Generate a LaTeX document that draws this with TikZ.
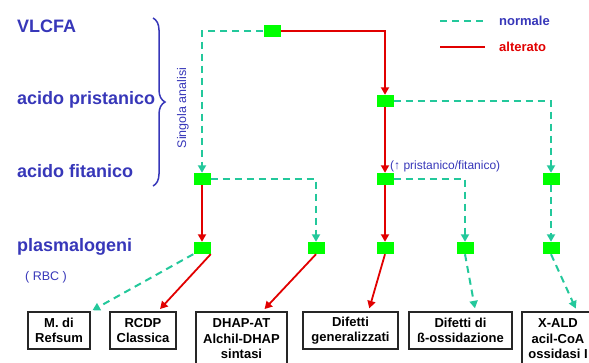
\documentclass[tikz,border=0pt]{standalone}
\usepackage{fontspec}
\setmainfont{Liberation Sans}
\usetikzlibrary{arrows.meta, positioning, calc, decorations.pathreplacing}
\definecolor{labelblue}{RGB}{55,55,185}
\definecolor{altred}{RGB}{225,0,0}
\definecolor{normteal}{RGB}{35,200,155}
\definecolor{nodegreen}{RGB}{0,255,0}
\tikzset{
    >=Latex,
    pat_level/.style={
        anchor=base west,
        text=labelblue,
        font=\fontsize{18}{20}\selectfont\bfseries,
        inner sep=0pt
    },
    pat_note/.style={
        text=labelblue,
        font=\fontsize{12.5}{14}\selectfont,
        inner sep=0pt
    },
    pat_square/.style={
        rectangle,
        fill=nodegreen,
        minimum width=17pt,
        minimum height=12pt,
        inner sep=0pt
    },
    pat_disease/.style={
        rectangle,
        draw=black!85,
        fill=white,
        line width=1.5pt,
        minimum height=37pt,
        inner sep=2pt,
        align=center,
        font=\fontsize{13}{15.5}\selectfont\bfseries
    },
    pat_norm_arrow/.style={
        -{Triangle[width=8pt,length=7.5pt]},
        draw=normteal,
        line width=2pt,
        dash pattern=on 7pt off 5pt
    },
    pat_alt_arrow/.style={
        -{Triangle[width=8pt,length=7.5pt]},
        draw=altred,
        line width=1.8pt
    }
}

\begin{document}
\begin{tikzpicture}[x=1pt, y=-1pt]
\useasboundingbox (0,0) rectangle (589,362);

% --- Levels of analysis ---
\node[pat_level] (vlcfa) at (17,32) {VLCFA};
\node[pat_level] (prist) at (17,104) {acido pristanico};
\node[pat_level] (fitan) at (17,177) {acido fitanico};
\node[pat_level] (plasma) at (17,251) {plasmalogeni};
\node[pat_note, anchor=base west] (rbc) at (25,280) {( RBC )};
\draw[labelblue, line width=1.5pt, decorate, decoration={brace, amplitude=12pt}]
  (153,18) -- (153,186);
\node[pat_note, rotate=90] (singola) at (183,108) {Singola analisi};

% --- Legend ---
\coordinate (normA) at (440,21);
\coordinate (normB) at (485,21);
\coordinate (altA) at (440,47);
\coordinate (altB) at (485,47);
\draw[normteal, line width=2pt, dash pattern=on 7pt off 5pt] (normA) -- (normB);
\draw[altred, line width=1.8pt] (altA) -- (altB);
\node[pat_note, font=\fontsize{13}{15}\selectfont\bfseries, right=14pt of normB] (normale) {normale};
\node[pat_note, text=altred, font=\fontsize{13}{15}\selectfont\bfseries, right=14pt of altB] (alterato) {alterato};

% --- Green checkpoints ---
\node[pat_square] (v) at (272,31) {};
\node[pat_square] (p) at (385,101) {};
\node[pat_square] (fa) at (202,179) {};
\node[pat_square] (fb) at (385,179) {};
\node[pat_square] (fc) at (551,179) {};
\node[pat_square] (pa) at (202,248) {};
\node[pat_square] (pb) at (316,248) {};
\node[pat_square] (pc) at (385,248) {};
\node[pat_square] (pd) at (465,248) {};
\node[pat_square] (pe) at (551,248) {};
\node[pat_note, font=\fontsize{12}{14}\selectfont, anchor=base west] (ratio) at (390,169)
  {(↑ pristanico/fitanico)};

% --- Diseases ---
\node[pat_disease, minimum width=62pt] (refsum) at (59,330.5) {M. di\\Refsum};
\node[pat_disease, minimum width=66pt] (rcdp) at (143,330.5) {RCDP\\Classica};
\node[pat_disease, minimum width=91pt, minimum height=54pt] (dhap) at (241.5,339)
  {DHAP-AT\\Alchil-DHAP\\sintasi};
\node[pat_disease, minimum width=95pt] (difgen) at (350.5,330.5) {Difetti\\generalizzati};
\node[pat_disease, minimum width=103pt] (difbeta) at (460.5,330.5) {Difetti di\\ß-ossidazione};
\node[pat_disease, minimum width=72pt, minimum height=54pt] (xald) at (558,339)
  {X-ALD\\acil-CoA\\ossidasi I};

% --- Edges: normal path ---
\draw[pat_norm_arrow] (v.west) -| (fa.north);
\draw[pat_norm_arrow] (p.east) -| (fc.north);
\draw[pat_norm_arrow] (fa.east) -| (pb.north);
\draw[pat_norm_arrow] (fb.east) -| (pd.north);
\draw[pat_norm_arrow] (fc) -- (pe);

% --- Edges: altered path ---
\draw[pat_alt_arrow] (v.east) -| (p.north);
\draw[pat_alt_arrow] (p) -- (fb);
\draw[pat_alt_arrow] (fa) -- (pa);
\draw[pat_alt_arrow] (fb) -- (pc);

% --- Edges: to diseases ---
\draw[pat_norm_arrow, shorten >=2pt] (pa.south west) -- (refsum.north east);
\draw[pat_alt_arrow, shorten >=3pt] (pa.south east) -- ([xshift=15pt]rcdp.north);
\draw[pat_alt_arrow, shorten >=3pt] (pb.south) -- ([xshift=21pt]dhap.north);
\draw[pat_alt_arrow, shorten >=3pt] (pc.south) -- ([xshift=18pt]difgen.north);
\draw[pat_norm_arrow, shorten >=3pt] (pd.south) -- ([xshift=15pt]difbeta.north);
\draw[pat_norm_arrow, shorten >=3pt] (pe.south) -- ([xshift=19pt]xald.north);

\end{tikzpicture}
\end{document}
